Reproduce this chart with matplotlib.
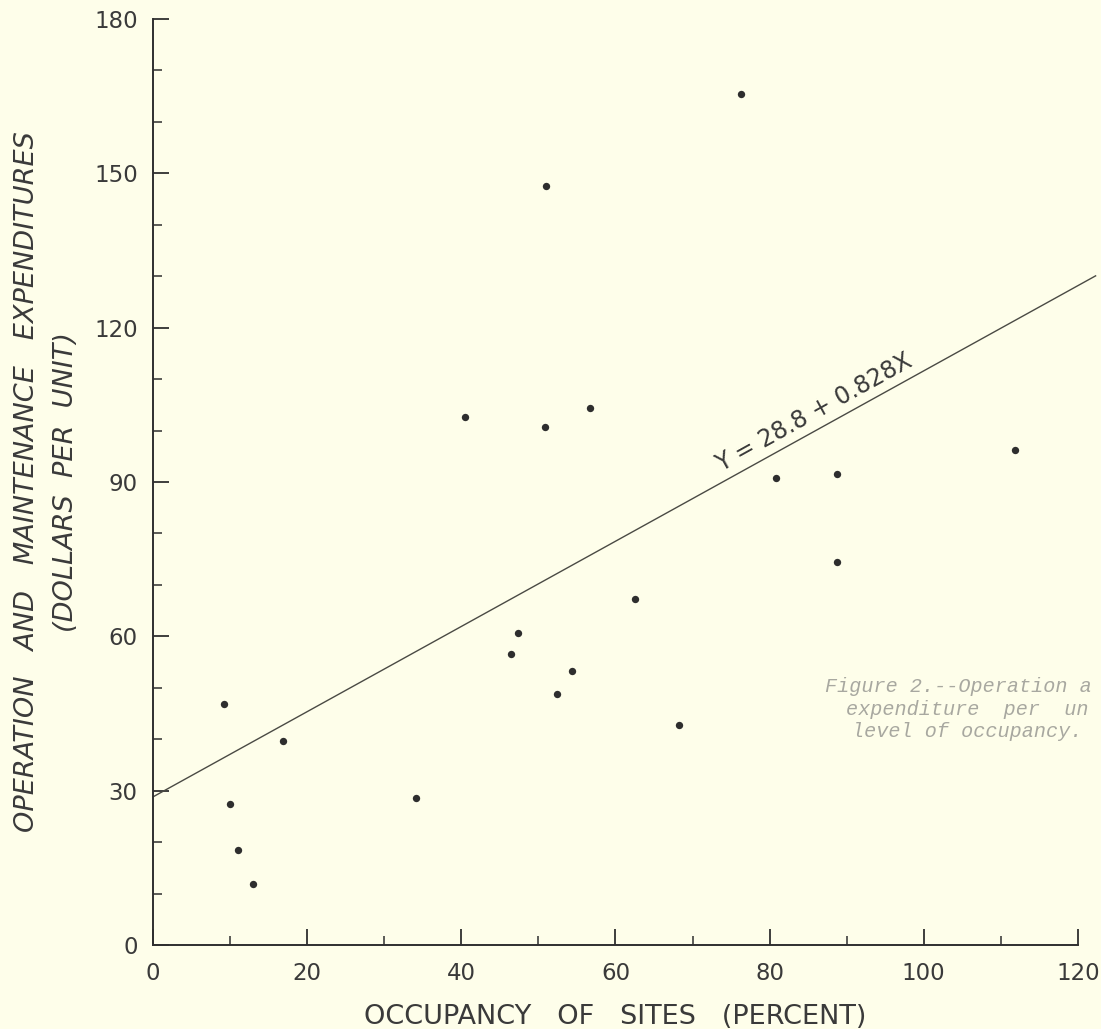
import numpy as np
import matplotlib
matplotlib.use("Agg")
import matplotlib.pyplot as plt
from matplotlib.ticker import MultipleLocator

# Data
occupancy = [9.2, 10.0, 11.0, 13.0, 16.9, 34.1, 40.5, 46.5, 47.4, 50.8, 51.0,
             52.4, 54.4, 56.7, 62.6, 68.3, 76.3, 80.8, 88.8, 88.7, 111.9]
expenditure = [46.9, 27.5, 18.4, 11.8, 39.7, 28.5, 102.7, 56.6, 60.7, 100.6, 147.6,
               48.7, 53.3, 104.4, 67.3, 42.7, 165.4, 90.7, 91.5, 74.4, 96.2]
intercept = 28.8
slope = 0.828
fit_x = [0.0, 122.3]
xticks = [0, 20, 40, 60, 80, 100, 120]
yticks = [0, 30, 60, 90, 120, 150, 180]
caption_lines = ["Figure 2.--Operation a", "expenditure  per  un", "level of occupancy."]

bg = "#fefeea"
ink = "#2e2e2e"

fig = plt.figure(figsize=(11.01, 10.29), dpi=100, facecolor=bg)
ax = fig.add_axes([0.139, 0.0816, 0.840, 0.900], facecolor=bg)

ax.set_xlim(0, 120)
ax.set_ylim(0, 180)

ax.scatter(occupancy, expenditure, s=28, color=ink, zorder=3, linewidths=0)
fy = [intercept + slope * v for v in fit_x]
ax.plot(fit_x, fy, color="#4a4a44", lw=1.0, clip_on=False, zorder=2)

tx = 74.0
ax.text(tx, intercept + slope * tx + 1.0, "Y = 28.8 + 0.828X", fontsize=17,
        color="#3a3a3a", rotation=np.degrees(np.arctan(slope)),
        transform_rotates_text=True, rotation_mode="anchor",
        ha="left", va="bottom")

for s in ["top", "right"]:
    ax.spines[s].set_visible(False)
for s in ["left", "bottom"]:
    ax.spines[s].set_linewidth(1.4)
    ax.spines[s].set_color("#2f2f2f")

ax.set_xticks(xticks)
ax.set_yticks(yticks)
ax.xaxis.set_minor_locator(MultipleLocator(10))
ax.yaxis.set_minor_locator(MultipleLocator(10))
ax.tick_params(which="major", direction="in", length=11.5, width=1.3,
               color="#2f2f2f", labelsize=16.5, labelcolor="#3a3a3a")
ax.tick_params(which="minor", direction="in", length=6.5, width=1.1,
               color="#2f2f2f")
ax.tick_params(axis="x", which="major", pad=12)
ax.tick_params(axis="y", which="major", pad=11)

ax.set_xlabel("OCCUPANCY   OF   SITES   (PERCENT)", fontsize=19.5,
              color="#3a3a3a", labelpad=14)
ax.set_ylabel("OPERATION   AND   MAINTENANCE   EXPENDITURES\n(DOLLARS  PER  UNIT)",
              fontsize=19.5, color="#3a3a3a", style="italic",
              multialignment="center", linespacing=1.65)
ax.yaxis.set_label_coords(-0.080, 0.5)

cap_font = dict(family="Liberation Mono", style="italic", fontsize=14.5,
                color="#a8a8a0")
cap_x = [825, 846, 852]
cap_y = [692, 715, 737]
for line, cx, cy in zip(caption_lines, cap_x, cap_y):
    fig.text(cx / 1101, 1 - cy / 1029, line, va="baseline", ha="left", **cap_font)

fig.savefig("out.png", dpi=100, facecolor=bg)
